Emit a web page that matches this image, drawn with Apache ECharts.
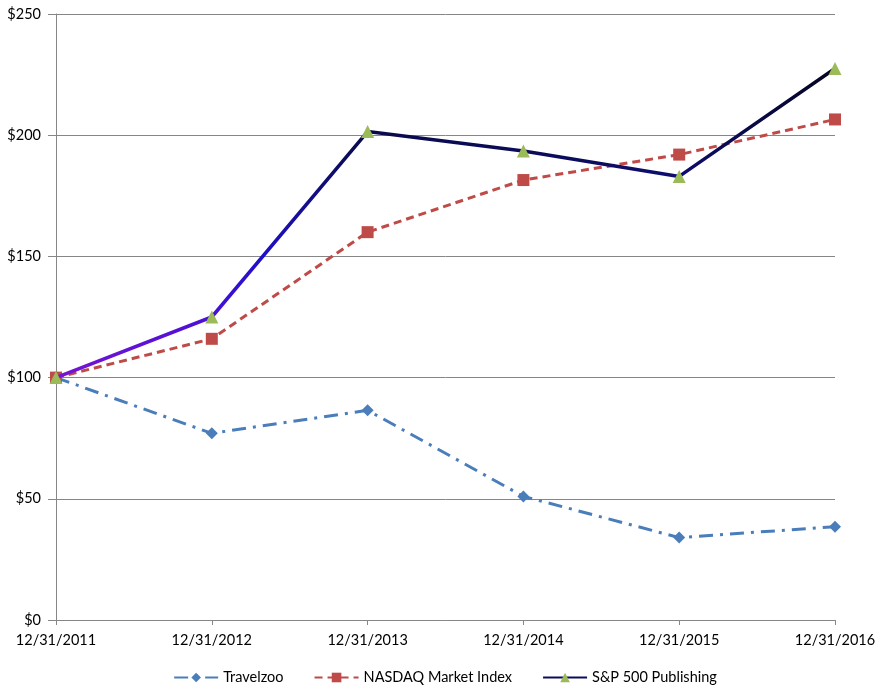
<!DOCTYPE html>
<html><head><meta charset="utf-8">
<script src="https://cdn.jsdelivr.net/npm/echarts@6/dist/echarts.min.js"></script>
<style>html,body{margin:0;padding:0;background:#fff}#c{width:890px;height:696px}</style>
</head><body><div id="c"></div>
<script>
var categories = ['12/31/2011','12/31/2012','12/31/2013','12/31/2014','12/31/2015','12/31/2016'];
var travelzoo = [100, 77, 86.5, 51, 34, 38.5];
var nasdaq = [100, 116, 160, 181.5, 192, 206.5];
var sp500pub = [100, 125, 201.5, 193.5, 183, 227.5];
var yTicks = [0, 50, 100, 150, 200, 250];

var chart = echarts.init(document.getElementById('c'), null, {renderer:'canvas'});
var font = 'Lato, "Open Sans", sans-serif';
chart.setOption({
  animation:false,
  grid:{left:56,right:55,top:14,bottom:76},
  legend:{
    bottom:6, left:'center', itemGap:30, itemWidth:44, itemHeight:12,
    textStyle:{fontFamily:font,fontSize:14.5,color:'#000'},
    data:[
      {name:'Travelzoo'},
      {name:'NASDAQ Market Index'},
      {name:'S&P 500 Publishing', itemStyle:{color:'#9bbb59'}, lineStyle:{color:'#0c0c5e'}}
    ]
  },
  xAxis:{
    type:'category', data:categories, boundaryGap:false,
    axisLine:{lineStyle:{color:'#868686',width:1}},
    axisTick:{show:true,alignWithLabel:true,length:5,lineStyle:{color:'#868686'}},
    axisLabel:{fontFamily:font,fontSize:14.5,color:'#000',margin:13,interval:0}
  },
  yAxis:{
    type:'value', min:yTicks[0], max:yTicks[yTicks.length-1], interval:50,
    axisLine:{show:true,lineStyle:{color:'#868686',width:1}},
    axisTick:{show:true,length:8,lineStyle:{color:'#868686'}},
    splitLine:{lineStyle:{color:'#868686',width:1}},
    axisLabel:{fontFamily:font,fontSize:14.5,color:'#000',margin:15,formatter:function(v){return '$'+v;}}
  },
  series:[
    {name:'Travelzoo',type:'line',data:travelzoo,symbol:'diamond',symbolSize:12,
     itemStyle:{color:'#4a7ebb'},
     lineStyle:{color:'#4a7ebb',width:3,type:[14,7,3,7]},z:2},
    {name:'NASDAQ Market Index',type:'line',data:nasdaq,symbol:'rect',symbolSize:12,
     itemStyle:{color:'#be4b48'},
     lineStyle:{color:'#be4b48',width:3,type:[8,5]},z:3},
    {name:'S&P 500 Publishing',type:'line',data:sp500pub,symbol:'triangle',symbolSize:13,
     itemStyle:{color:'#9bbb59'},
     lineStyle:{width:3.5,color:new echarts.graphic.LinearGradient(0,0,0,1,[
       {offset:0,color:'#050520'},
       {offset:0.3,color:'#0c0c5e'},
       {offset:0.6,color:'#1e10c8'},
       {offset:0.8,color:'#4a10d6'},
       {offset:1,color:'#7a14d4'}
     ])},z:4}
  ]
});
</script></body></html>
